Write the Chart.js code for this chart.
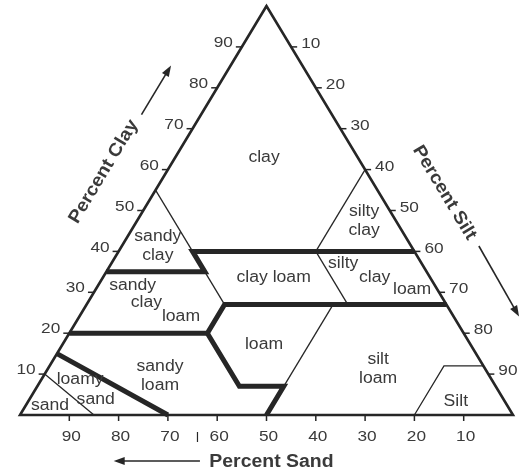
<!DOCTYPE html>
<html>
<head>
<meta charset="utf-8">
<script src="https://cdn.jsdelivr.net/npm/chart.js@4.4.1/dist/chart.umd.min.js"></script>
<style>
  html, body { margin: 0; padding: 0; background: #fff; }
  #wrap { width: 522px; height: 474px; }
</style>
</head>
<body>
<div id="wrap"><canvas id="soilChart" width="522" height="474"></canvas></div>
<script>
// every point is [percent clay, percent sand]; silt is what is left over
const outline = [[0, 100], [100, 0], [0, 0], [0, 100], [100, 0]];

const thickLines = [
  [[35, 65], [35, 45], [40, 45], [40, 0]],
  [[20, 80], [20, 52], [27, 45], [27, 0]],
  [[20, 52], [7, 52], [7, 43], [0, 50]],
  [[15, 85], [0, 70]]
];

const thinLines = [
  [[55, 45], [40, 45]],
  [[35, 45], [27, 45]],
  [[60, 0], [40, 20]],
  [[40, 20], [27, 20]],
  [[27, 23], [7, 43]],
  [[12, 0], [12, 8], [0, 20]],
  [[10, 90], [0, 85]]
];

const clayTicks = [10, 20, 30, 40, 50, 60, 70, 80, 90];
const siltTicks = [10, 20, 30, 40, 50, 60, 70, 80, 90];
const sandTicks = [90, 80, 70, 60, 50, 40, 30, 20, 10];

// [text, clay, sand]
const regionLabels = [
  ['clay', 63, 19],
  ['sandy\nclay', 41.3, 51.4],
  ['silty\nclay', 47.4, 6.5],
  ['clay loam', 33.7, 31.7],
  ['silty', 36.9, 16],
  ['clay', 33.7, 11.2],
  ['loam', 30.7, 5.1],
  ['sandy', 31.7, 61.3],
  ['clay', 27.5, 60.6],
  ['loam', 24.1, 55.3],
  ['loam', 17.2, 41.9],
  ['sandy\nloam', 9.6, 66.8],
  ['silt\nloam', 11.3, 21.7],
  ['Silt', 3.2, 10],
  ['loamy', 8.6, 83.5],
  ['sand', 3.7, 82.8],
  ['sand', 2.2, 92.8]
];

const LINE = '#262626';
const TEXT = '#3a3a3a';
const FONT = '"Liberation Sans", Arial, sans-serif';

const toXY = (pts) => pts.map(([clay, sand]) => ({ x: 100 - sand - clay / 2, y: clay }));

const lineSet = (pts, width) => ({
  data: toXY(pts),
  showLine: true,
  pointRadius: 0,
  borderColor: LINE,
  borderWidth: width,
  borderJoinStyle: 'miter',
  fill: false,
  clip: false
});

function drawText(ctx, text, x, y, font, align, sx, angle) {
  ctx.save();
  ctx.translate(x, y);
  if (angle) ctx.rotate(angle);
  ctx.scale(sx, 1);
  ctx.font = font;
  ctx.textAlign = align;
  ctx.textBaseline = 'middle';
  ctx.fillStyle = TEXT;
  ctx.fillText(text, 0, 0);
  ctx.restore();
}

function arrow(ctx, a, b) {
  const dx = b.x - a.x, dy = b.y - a.y, l = Math.hypot(dx, dy);
  const ux = dx / l, uy = dy / l;
  ctx.save();
  ctx.strokeStyle = LINE;
  ctx.fillStyle = LINE;
  ctx.lineWidth = 1.6;
  ctx.beginPath();
  ctx.moveTo(a.x, a.y);
  ctx.lineTo(b.x - ux * 8, b.y - uy * 8);
  ctx.stroke();
  ctx.beginPath();
  ctx.moveTo(b.x, b.y);
  ctx.lineTo(b.x - ux * 11 - uy * 4, b.y - uy * 11 + ux * 4);
  ctx.lineTo(b.x - ux * 11 + uy * 4, b.y - uy * 11 - ux * 4);
  ctx.closePath();
  ctx.fill();
  ctx.restore();
}

const triangleLabels = {
  id: 'triangleLabels',
  afterDatasetsDraw(chart) {
    const { ctx, scales: { x, y } } = chart;
    const pt = (clay, sand) => ({ x: x.getPixelForValue(100 - sand - clay / 2), y: y.getPixelForValue(clay) });
    const bl = pt(0, 100), top = pt(100, 0), br = pt(0, 0);
    const unit = (a, b) => {
      const dx = b.x - a.x, dy = b.y - a.y, l = Math.hypot(dx, dy);
      return { x: dx / l, y: dy / l };
    };
    const upLeft = unit(bl, top);
    const downRight = unit(top, br);
    const nLeft = { x: upLeft.y, y: -upLeft.x };
    const nRight = { x: downRight.y, y: -downRight.x };
    const off = (p, n, d) => ({ x: p.x + n.x * d, y: p.y + n.y * d });

    const tickFont = '15px ' + FONT;
    ctx.save();
    ctx.strokeStyle = LINE;
    ctx.lineWidth = 1.5;

    clayTicks.forEach(c => {
      const p = pt(c, 100 - c);
      ctx.beginPath(); ctx.moveTo(p.x, p.y); ctx.lineTo(p.x - 6, p.y); ctx.stroke();
      drawText(ctx, String(c), p.x - 9, p.y - 4, tickFont, 'right', 1.15);
    });
    siltTicks.forEach(s => {
      const p = pt(100 - s, 0);
      ctx.beginPath(); ctx.moveTo(p.x, p.y); ctx.lineTo(p.x + 6, p.y); ctx.stroke();
      drawText(ctx, String(s), p.x + 10, p.y - 3, tickFont, 'left', 1.15);
    });
    sandTicks.forEach(s => {
      const p = pt(0, s);
      ctx.beginPath(); ctx.moveTo(p.x, p.y); ctx.lineTo(p.x, p.y + 6); ctx.stroke();
      drawText(ctx, String(s), p.x + 2, p.y + 22, tickFont, 'center', 1.15);
    });
    // the little stray mark between 70 and 60
    const m = pt(0, 64);
    ctx.lineWidth = 1.2;
    ctx.beginPath(); ctx.moveTo(m.x, m.y + 17); ctx.lineTo(m.x, m.y + 27); ctx.stroke();
    ctx.restore();

    // region names
    const regionFont = '16px ' + FONT;
    regionLabels.forEach(([text, clay, sand]) => {
      const p = pt(clay, sand);
      const rows = text.split('\n');
      rows.forEach((row, i) => {
        drawText(ctx, row, p.x, p.y + (i - (rows.length - 1) / 2) * 19, regionFont, 'center', 1.1);
      });
    });

    // axis titles and arrows
    const titleFont = 'bold 18px ' + FONT;
    const clayC = off(pt(52.7, 47.3), nLeft, 54);
    drawText(ctx, 'Percent Clay', clayC.x, clayC.y, titleFont, 'center', 1.08, Math.atan2(upLeft.y, upLeft.x));
    arrow(ctx, off(pt(67, 33), nLeft, 51), off(pt(79, 21), nLeft, 51));

    const siltC = off(pt(47.3, 0), nRight, 56);
    drawText(ctx, 'Percent Silt', siltC.x, siltC.y, titleFont, 'center', 1.08, Math.atan2(downRight.y, downRight.x));
    arrow(ctx, off(pt(34, 0), nRight, 58), off(pt(17, 0), nRight, 56));

    drawText(ctx, 'Percent Sand', pt(0, 49).x, bl.y + 47, titleFont, 'center', 1.08);
    arrow(ctx, { x: pt(0, 63.5).x, y: bl.y + 46 }, { x: pt(0, 81).x, y: bl.y + 46 });
  }
};

new Chart(document.getElementById('soilChart').getContext('2d'), {
  type: 'scatter',
  data: {
    datasets: [
      ...thinLines.map(l => lineSet(l, 1.3)),
      ...thickLines.map(l => lineSet(l, 5)),
      lineSet(outline, 2.6)
    ]
  },
  options: {
    responsive: false,
    animation: false,
    layout: { padding: { left: 20, right: 9, top: 6, bottom: 59 } },
    plugins: {
      legend: { display: false },
      tooltip: { enabled: false }
    },
    scales: {
      x: { type: 'linear', min: 0, max: 100, display: false },
      y: { type: 'linear', min: 0, max: 100, display: false }
    }
  },
  plugins: [triangleLabels]
});
</script>
</body>
</html>
